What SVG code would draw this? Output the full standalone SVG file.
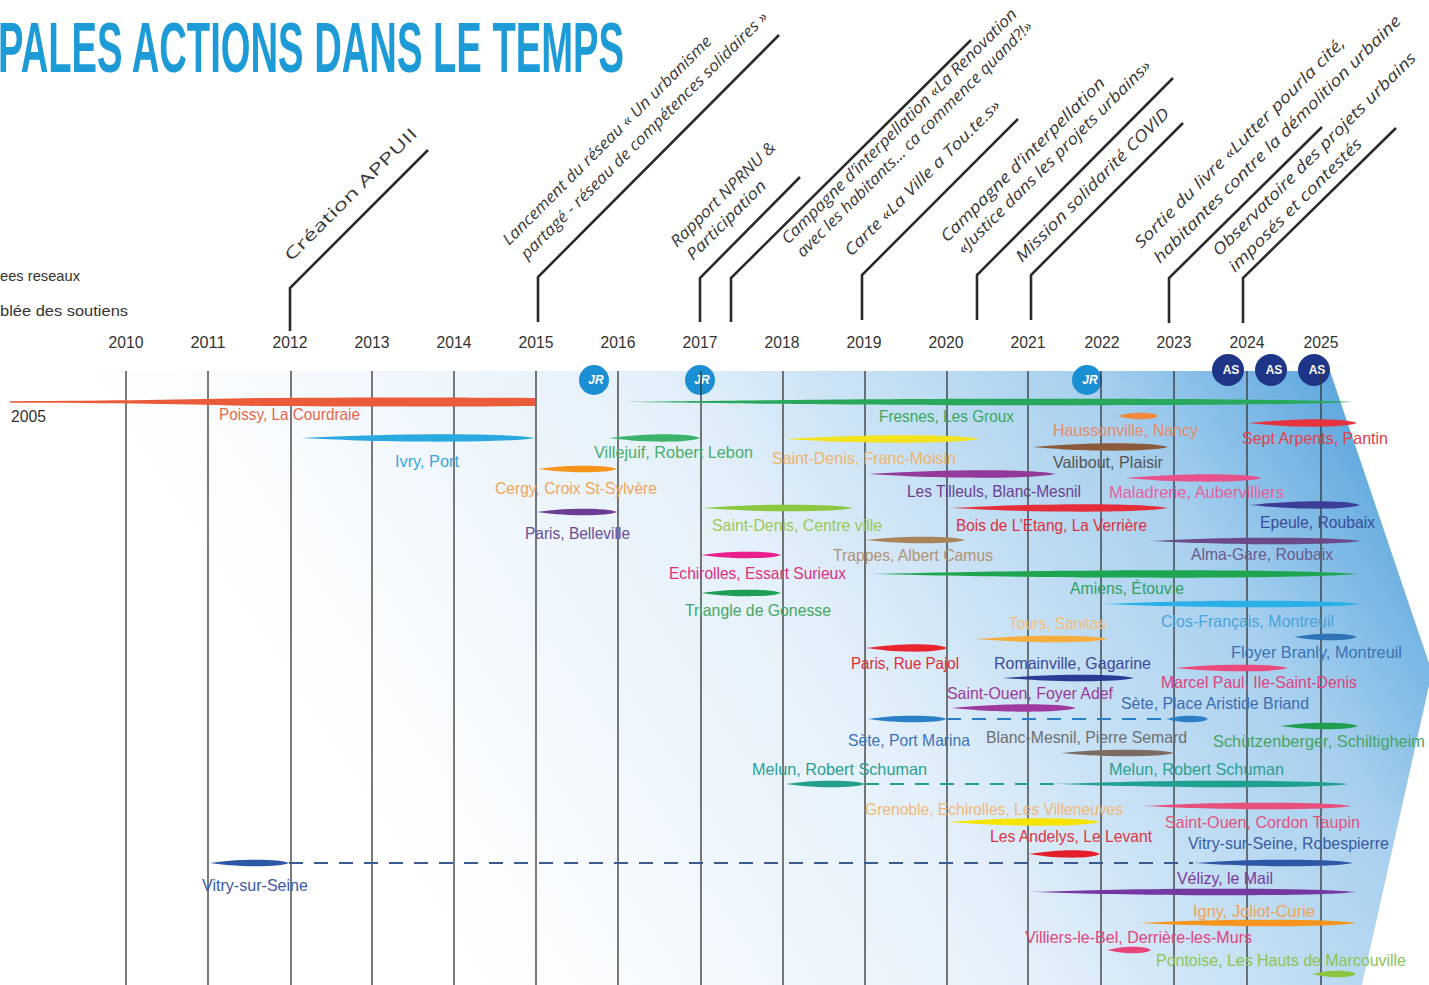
<svg xmlns="http://www.w3.org/2000/svg" xmlns:xlink="http://www.w3.org/1999/xlink" width="1429" height="985" viewBox="0 0 1429 985">
<defs>
<linearGradient id="bg" gradientUnits="userSpaceOnUse" x1="480" y1="985" x2="1429" y2="372">
<stop offset="0" stop-color="#ffffff"/>
<stop offset="0.42" stop-color="#e4f0fa"/>
<stop offset="0.75" stop-color="#a6cfee"/>
<stop offset="1" stop-color="#3f97d8"/>
</linearGradient>
<symbol id="br" viewBox="0 0 100 10" preserveAspectRatio="none">
<path d="M0,5 C10,4.2 25,1.6 50,1 C75,0.6 92,1.6 100,5 C92,8.4 75,9.4 50,9 C25,8.4 10,5.8 0,5 Z"/>
</symbol>
<style>
.yr{font-family:"Liberation Sans",Arial,sans-serif;font-size:17px;fill:#333;text-anchor:middle}
.lb{font-family:"Liberation Sans",Arial,sans-serif;font-size:16.5px}
.ev{font-family:"Open Sans","Liberation Sans",sans-serif;font-size:16px;font-style:italic;fill:#3a3a3a}
.vl{stroke:#333;stroke-width:1.3}
.ld{fill:none;stroke:#2b2b2b;stroke-width:2.6}
.dash{fill:none;stroke-width:2;stroke-dasharray:14 11}
.bd{font-family:"Liberation Sans",Arial,sans-serif;font-weight:bold;font-size:12px;fill:#fff;text-anchor:middle}
</style>
</defs>
<rect width="1429" height="985" fill="#ffffff"/>
<polygon points="0,371 1330,371 1432,672 1362,985 0,985" fill="url(#bg)"/>

<g id="title">
<text x="-2" y="72" font-family="Liberation Sans, Arial, sans-serif" font-weight="bold" font-size="70" textLength="626" lengthAdjust="spacingAndGlyphs" fill="#1d9bd7">PALES ACTIONS DANS LE TEMPS</text>
</g>

<g id="legend-cut" class="lb" fill="#333">
<text x="0" y="281" font-size="15" textLength="80" lengthAdjust="spacingAndGlyphs">ees reseaux</text>
<text x="0" y="316" font-size="15" textLength="128" lengthAdjust="spacingAndGlyphs">blée des soutiens</text>
</g>

<g id="years">
<text class="yr" x="126" y="348" textLength="35" lengthAdjust="spacingAndGlyphs">2010</text>
<text class="yr" x="208" y="348" textLength="35" lengthAdjust="spacingAndGlyphs">2011</text>
<text class="yr" x="290" y="348" textLength="35" lengthAdjust="spacingAndGlyphs">2012</text>
<text class="yr" x="372" y="348" textLength="35" lengthAdjust="spacingAndGlyphs">2013</text>
<text class="yr" x="454" y="348" textLength="35" lengthAdjust="spacingAndGlyphs">2014</text>
<text class="yr" x="536" y="348" textLength="35" lengthAdjust="spacingAndGlyphs">2015</text>
<text class="yr" x="618" y="348" textLength="35" lengthAdjust="spacingAndGlyphs">2016</text>
<text class="yr" x="700" y="348" textLength="35" lengthAdjust="spacingAndGlyphs">2017</text>
<text class="yr" x="782" y="348" textLength="35" lengthAdjust="spacingAndGlyphs">2018</text>
<text class="yr" x="864" y="348" textLength="35" lengthAdjust="spacingAndGlyphs">2019</text>
<text class="yr" x="946" y="348" textLength="35" lengthAdjust="spacingAndGlyphs">2020</text>
<text class="yr" x="1028" y="348" textLength="35" lengthAdjust="spacingAndGlyphs">2021</text>
<text class="yr" x="1102" y="348" textLength="35" lengthAdjust="spacingAndGlyphs">2022</text>
<text class="yr" x="1174" y="348" textLength="35" lengthAdjust="spacingAndGlyphs">2023</text>
<text class="yr" x="1247" y="348" textLength="35" lengthAdjust="spacingAndGlyphs">2024</text>
<text class="yr" x="1321" y="348" textLength="35" lengthAdjust="spacingAndGlyphs">2025</text>
<text class="lb" x="11" y="422" fill="#333" textLength="35" lengthAdjust="spacingAndGlyphs">2005</text>
</g>

<g id="markers">
<circle cx="594" cy="380" r="15" fill="#1b8fd4"/><text class="bd" x="596" y="384" font-style="italic">JR</text>
<circle cx="700" cy="380" r="15" fill="#1b8fd4"/><text class="bd" x="702" y="384" font-style="italic">JR</text>
<circle cx="1087" cy="380" r="15" fill="#1b8fd4"/><text class="bd" x="1090" y="384" font-style="italic">JR</text>
<circle cx="1228" cy="370" r="16" fill="#1f3688"/><text class="bd" x="1231" y="374">AS</text>
<circle cx="1271" cy="370" r="16" fill="#1f3688"/><text class="bd" x="1274" y="374">AS</text>
<circle cx="1314" cy="370" r="16" fill="#1f3688"/><text class="bd" x="1317" y="374">AS</text>
</g>

<g id="gridlines" class="vl">
<line x1="126" y1="371" x2="126" y2="985"/>
<line x1="208" y1="371" x2="208" y2="985"/>
<line x1="291" y1="371" x2="291" y2="985"/>
<line x1="372" y1="371" x2="372" y2="985"/>
<line x1="454" y1="371" x2="454" y2="985"/>
<line x1="536" y1="371" x2="536" y2="985"/>
<line x1="618" y1="371" x2="618" y2="985"/>
<line x1="701" y1="371" x2="701" y2="985"/>
<line x1="783" y1="371" x2="783" y2="985"/>
<line x1="865" y1="371" x2="865" y2="985"/>
<line x1="947" y1="371" x2="947" y2="985"/>
<line x1="1028" y1="371" x2="1028" y2="985"/>
<line x1="1101" y1="371" x2="1101" y2="985"/>
<line x1="1174" y1="371" x2="1174" y2="985"/>
<line x1="1247" y1="371" x2="1247" y2="985"/>
<line x1="1321" y1="371" x2="1321" y2="985"/>
</g>

<g id="connectors">
<path class="ld" d="M290,331 V288 L428,150"/>
<path class="ld" d="M538,322 V277 L779,35"/>
<path class="ld" d="M700,322 V278 L800,177"/>
<path class="ld" d="M731,322 V278 L971,40"/>
<path class="ld" d="M862,320 V275 L1018,119"/>
<path class="ld" d="M977,320 V275 L1173,78"/>
<path class="ld" d="M1031,320 V275 L1183,123"/>
<path class="ld" d="M1169,323 V278 L1322,127"/>
<path class="ld" d="M1243,323 V278 L1396,128"/>
<path class="dash" stroke="#2a7fc6" d="M947,719 H1166"/>
<path class="dash" stroke="#22a08e" d="M865,784 H1055"/>
<path class="dash" stroke="#3a5a90" d="M289,863 H1193"/>
</g>

<g id="events">
<text class="ev" style="font-style:normal" font-size="20" fill="#3fb39c" transform="translate(291,262) rotate(-45)" textLength="180" lengthAdjust="spacingAndGlyphs">Création APPUII</text>
<text class="ev" transform="translate(509,246) rotate(-45)" textLength="288" lengthAdjust="spacingAndGlyphs">Lancement du réseau « Un urbanisme</text>
<text class="ev" transform="translate(527,260) rotate(-45)" textLength="342" lengthAdjust="spacingAndGlyphs">partagé - réseau de compétences solidaires »</text>
<text class="ev" transform="translate(677,248) rotate(-45)" textLength="141" lengthAdjust="spacingAndGlyphs">Rapport NPRNU &amp;</text>
<text class="ev" transform="translate(693,261) rotate(-45)" textLength="105" lengthAdjust="spacingAndGlyphs">Participation</text>
<text class="ev" transform="translate(788,245) rotate(-45)" textLength="325" lengthAdjust="spacingAndGlyphs">Campagne d’interpellation «La Renovation</text>
<text class="ev" transform="translate(803,258) rotate(-45)" textLength="326" lengthAdjust="spacingAndGlyphs">avec les habitants... ca commence quand?!»</text>
<text class="ev" transform="translate(851,257) rotate(-45)" textLength="213" lengthAdjust="spacingAndGlyphs">Carte «La Ville a Tou.te.s»</text>
<text class="ev" transform="translate(947,243) rotate(-45)" textLength="225" lengthAdjust="spacingAndGlyphs">Campagne d’interpellation</text>
<text class="ev" transform="translate(964,255) rotate(-45)" textLength="266" lengthAdjust="spacingAndGlyphs">«Justice dans les projets urbains»</text>
<text class="ev" transform="translate(1022,263) rotate(-45)" textLength="210" lengthAdjust="spacingAndGlyphs">Mission solidarité COVID</text>
<text class="ev" transform="translate(1141,249) rotate(-45)" textLength="290" lengthAdjust="spacingAndGlyphs">Sortie du livre «Lutter pourla cité,</text>
<text class="ev" transform="translate(1160,264) rotate(-45)" textLength="342" lengthAdjust="spacingAndGlyphs">habitantes contre la démolition urbaine</text>
<text class="ev" transform="translate(1219,257) rotate(-45)" textLength="280" lengthAdjust="spacingAndGlyphs">Observatoire des projets urbains</text>
<text class="ev" transform="translate(1235,273) rotate(-45)" textLength="181" lengthAdjust="spacingAndGlyphs">imposés et contestés</text>
</g>

<g id="projects" class="lb">
<g id="p-poissy"><path fill="#ea5b3a" d="M10,401.3 C120,400.8 190,399.5 260,398 C380,397 480,397.5 535,398 L535,406 C480,406.5 380,407 260,406 C190,404.5 120,402.7 10,402.7 Z"/><text x="219" y="420" fill="#e8674a" textLength="141" lengthAdjust="spacingAndGlyphs">Poissy, La Courdraie</text></g>
<g id="p-fresnes"><use xlink:href="#br" href="#br" x="618" y="398" width="734" height="8" fill="#27a85a"/><text x="879" y="422" fill="#3aa862" textLength="135" lengthAdjust="spacingAndGlyphs">Fresnes, Les Groux</text></g>
<g id="p-ivry"><use xlink:href="#br" href="#br" x="297" y="433.5" width="238" height="9" fill="#2aa8e0"/><text x="395" y="467" fill="#3aa6de" textLength="64" lengthAdjust="spacingAndGlyphs">Ivry, Port</text></g>
<g id="p-villejuif"><use xlink:href="#br" href="#br" x="608" y="433.5" width="92" height="9" fill="#3bb36a"/><text x="594" y="458" fill="#47ad6a" textLength="159" lengthAdjust="spacingAndGlyphs">Villejuif, Robert Lebon</text></g>
<g id="p-haussonville"><use xlink:href="#br" href="#br" x="1117" y="412" width="41" height="8" fill="#f08840"/><text x="1053" y="436" fill="#e88a68" textLength="145" lengthAdjust="spacingAndGlyphs">Haussonville, Nancy</text></g>
<g id="p-pantin"><use xlink:href="#br" href="#br" x="1248" y="418.5" width="109" height="9" fill="#e5333f"/><text x="1242" y="444" fill="#e3404d" textLength="146" lengthAdjust="spacingAndGlyphs">Sept Arpents, Pantin</text></g>
<g id="p-francmoisin"><use xlink:href="#br" href="#br" x="781" y="434.5" width="198" height="9" fill="#f2e31e"/><text x="772" y="464" fill="#f2b46a" textLength="184" lengthAdjust="spacingAndGlyphs">Saint-Denis, Franc-Moisin</text></g>
<g id="p-valibout"><use xlink:href="#br" href="#br" x="1030" y="442.5" width="138" height="9" fill="#8a5a3a"/><text x="1053" y="468" fill="#555555" textLength="110" lengthAdjust="spacingAndGlyphs">Valibout, Plaisir</text></g>
<g id="p-cergy"><use xlink:href="#br" href="#br" x="537" y="465" width="80" height="8" fill="#f7941d"/><text x="495" y="494" fill="#f5a458" textLength="162" lengthAdjust="spacingAndGlyphs">Cergy, Croix St-Sylvère</text></g>
<g id="p-tilleuls"><use xlink:href="#br" href="#br" x="865" y="469.5" width="191" height="9" fill="#92399a"/><text x="907" y="497" fill="#6b3e90" textLength="174" lengthAdjust="spacingAndGlyphs">Les Tilleuls, Blanc-Mesnil</text></g>
<g id="p-maladrerie"><use xlink:href="#br" href="#br" x="1123" y="473.5" width="139" height="9" fill="#e8518a"/><text x="1109" y="498" fill="#e8609a" textLength="175" lengthAdjust="spacingAndGlyphs">Maladrerie, Aubervilliers</text></g>
<g id="p-belleville"><use xlink:href="#br" href="#br" x="536" y="508" width="81" height="8" fill="#6d3d96"/><text x="525" y="539" fill="#6a4c98" textLength="105" lengthAdjust="spacingAndGlyphs">Paris, Belleville</text></g>
<g id="p-stdenis-centre"><use xlink:href="#br" href="#br" x="700" y="504" width="153" height="8" fill="#8dc63f"/><text x="712" y="531" fill="#9bc954" textLength="170" lengthAdjust="spacingAndGlyphs">Saint-Denis, Centre ville</text></g>
<g id="p-verriere"><use xlink:href="#br" href="#br" x="949" y="503.5" width="219" height="9" fill="#e52d3a"/><text x="956" y="531" fill="#e22d3c" textLength="191" lengthAdjust="spacingAndGlyphs">Bois de L’Etang, La Verrière</text></g>
<g id="p-epeule"><use xlink:href="#br" href="#br" x="1249" y="500.5" width="111" height="9" fill="#3b3d96"/><text x="1260" y="528" fill="#3b4a98" textLength="115" lengthAdjust="spacingAndGlyphs">Epeule, Roubaix</text></g>
<g id="p-trappes"><use xlink:href="#br" href="#br" x="865" y="536" width="100" height="8" fill="#a88458"/><text x="833" y="561" fill="#b49272" textLength="160" lengthAdjust="spacingAndGlyphs">Trappes, Albert Camus</text></g>
<g id="p-almagare"><use xlink:href="#br" href="#br" x="1149" y="537" width="211" height="8" fill="#6a4a88"/><text x="1191" y="560" fill="#6b5a8a" textLength="142" lengthAdjust="spacingAndGlyphs">Alma-Gare, Roubaix</text></g>
<g id="p-echirolles"><use xlink:href="#br" href="#br" x="700" y="551" width="81" height="8" fill="#ec1f8e"/><text x="669" y="579" fill="#e02f7d" textLength="177" lengthAdjust="spacingAndGlyphs">Echirolles, Essart Surieux</text></g>
<g id="p-amiens"><use xlink:href="#br" href="#br" x="865" y="569.5" width="493" height="9" fill="#1ea550"/><text x="1070" y="594" fill="#2fa061" textLength="114" lengthAdjust="spacingAndGlyphs">Amiens, Étouvie</text></g>
<g id="p-gonesse"><use xlink:href="#br" href="#br" x="700" y="589" width="81" height="8" fill="#1e9e52"/><text x="685" y="616" fill="#45a862" textLength="146" lengthAdjust="spacingAndGlyphs">Triangle de Gonesse</text></g>
<g id="p-closfrancais"><use xlink:href="#br" href="#br" x="1102" y="600" width="258" height="8" fill="#2ab0e6"/><text x="1161" y="627" fill="#4aa2da" textLength="173" lengthAdjust="spacingAndGlyphs">Clos-Français, Montreuil</text></g>
<g id="p-tours"><use xlink:href="#br" href="#br" x="975" y="635" width="133" height="8" fill="#f6ad3c"/><text x="1009" y="629" fill="#f4c078" textLength="97" lengthAdjust="spacingAndGlyphs">Tours, Sanitas</text></g>
<g id="p-floyer"><use xlink:href="#br" href="#br" x="1293" y="633" width="64" height="8" fill="#2f74b8"/><text x="1231" y="658" fill="#3a72b2" textLength="171" lengthAdjust="spacingAndGlyphs">Floyer Branly, Montreuil</text></g>
<g id="p-pajol"><use xlink:href="#br" href="#br" x="865" y="643.5" width="82" height="9" fill="#e8232c"/><text x="851" y="669" fill="#e22b36" textLength="108" lengthAdjust="spacingAndGlyphs">Paris, Rue Pajol</text></g>
<g id="p-gagarine"><use xlink:href="#br" href="#br" x="1003" y="674" width="131" height="8" fill="#2b3a95"/><text x="994" y="669" fill="#3b4a9a" textLength="157" lengthAdjust="spacingAndGlyphs">Romainville, Gagarine</text></g>
<g id="p-marcelpaul"><use xlink:href="#br" href="#br" x="1174" y="664" width="114" height="8" fill="#ea4a7c"/><text x="1161" y="688" fill="#e0427c" textLength="196" lengthAdjust="spacingAndGlyphs">Marcel Paul, Ile-Saint-Denis</text></g>
<g id="p-adef"><use xlink:href="#br" href="#br" x="949" y="703.5" width="127" height="9" fill="#a0399e"/><text x="947" y="699" fill="#9c3a98" textLength="166" lengthAdjust="spacingAndGlyphs">Saint-Ouen, Foyer Adef</text></g>
<g id="p-sete-briand"><text x="1121" y="709" fill="#3a6cb2" textLength="188" lengthAdjust="spacingAndGlyphs">Sète, Place Aristide Briand</text></g>
<g id="p-sete-marina"><use xlink:href="#br" href="#br" x="867" y="715" width="80" height="8" fill="#2a7fc6"/><use xlink:href="#br" href="#br" x="1166" y="715" width="42" height="8" fill="#2a7fc6"/><text x="848" y="746" fill="#3a72ba" textLength="122" lengthAdjust="spacingAndGlyphs">Sète, Port Marina</text></g>
<g id="p-schiltigheim"><use xlink:href="#br" href="#br" x="1280" y="722" width="78" height="8" fill="#1e9e4e"/><text x="1213" y="747" fill="#48a460" textLength="212" lengthAdjust="spacingAndGlyphs">Schützenberger, Schiltigheim</text></g>
<g id="p-semard"><use xlink:href="#br" href="#br" x="1060" y="749" width="114" height="8" fill="#7b6b62"/><text x="986" y="743" fill="#6e6e6e" textLength="201" lengthAdjust="spacingAndGlyphs">Blanc-Mesnil, Pierre Semard</text></g>
<g id="p-melun"><use xlink:href="#br" href="#br" x="785" y="780" width="80" height="8" fill="#22a08e"/><use xlink:href="#br" href="#br" x="1055" y="780" width="294" height="8" fill="#22a08e"/><text x="752" y="775" fill="#2aa092" textLength="175" lengthAdjust="spacingAndGlyphs">Melun, Robert Schuman</text><text x="1109" y="775" fill="#2aa092" textLength="175" lengthAdjust="spacingAndGlyphs">Melun, Robert Schuman</text></g>
<g id="p-grenoble"><use xlink:href="#br" href="#br" x="947" y="817.5" width="153" height="9" fill="#f4e400"/><text x="865" y="815" fill="#f2b878" textLength="258" lengthAdjust="spacingAndGlyphs">Grenoble, Echirolles, Les Villeneuves</text></g>
<g id="p-taupin"><use xlink:href="#br" href="#br" x="1142" y="802" width="209" height="8" fill="#e8507c"/><text x="1165" y="828" fill="#e2527e" textLength="195" lengthAdjust="spacingAndGlyphs">Saint-Ouen, Cordon Taupin</text></g>
<g id="p-andelys"><use xlink:href="#br" href="#br" x="1028" y="849.5" width="72" height="9" fill="#e51f2a"/><text x="990" y="842" fill="#e03444" textLength="162" lengthAdjust="spacingAndGlyphs">Les Andelys, Le Levant</text></g>
<g id="p-robespierre"><text x="1188" y="849" fill="#3a5aa2" textLength="201" lengthAdjust="spacingAndGlyphs">Vitry-sur-Seine, Robespierre</text></g>
<g id="p-vitry"><use xlink:href="#br" href="#br" x="209" y="859" width="80" height="8" fill="#2d58a8"/><use xlink:href="#br" href="#br" x="1193" y="859" width="160" height="8" fill="#2d58a8"/><text x="202" y="891" fill="#3a5aaa" textLength="106" lengthAdjust="spacingAndGlyphs">Vitry-sur-Seine</text></g>
<g id="p-velizy"><use xlink:href="#br" href="#br" x="1030" y="888" width="326" height="8" fill="#7538a0"/><text x="1177" y="884" fill="#7a3a9c" textLength="96" lengthAdjust="spacingAndGlyphs">Vélizy, le Mail</text></g>
<g id="p-igny"><use xlink:href="#br" href="#br" x="1137" y="919" width="219" height="8" fill="#f7941d"/><text x="1193" y="917" fill="#f2a454" textLength="122" lengthAdjust="spacingAndGlyphs">Igny, Joliot-Curie</text></g>
<g id="p-villiers"><use xlink:href="#br" href="#br" x="1107" y="946" width="44" height="8" fill="#e8457a"/><text x="1025" y="943" fill="#e2447c" textLength="227" lengthAdjust="spacingAndGlyphs">Villiers-le-Bel, Derrière-les-Murs</text></g>
<g id="p-pontoise"><use xlink:href="#br" href="#br" x="1312" y="970" width="44" height="8" fill="#8cc63f"/><text x="1156" y="966" fill="#8cc456" textLength="250" lengthAdjust="spacingAndGlyphs">Pontoise, Les Hauts de Marcouville</text></g>
</g>
</svg>
